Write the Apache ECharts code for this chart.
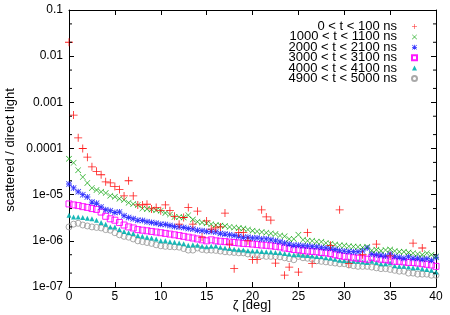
<!DOCTYPE html>
<html><head><meta charset="utf-8">
<script src="https://cdn.jsdelivr.net/npm/echarts@6/dist/echarts.min.js"></script>
<style>html,body{margin:0;padding:0;background:#fff}#c{width:450px;height:315px}</style>
</head><body><div id="c"></div>
<script>
// angle grid, 0..40 deg in 0.5 deg steps
const zeta = [0,0.5,1,1.5,2,2.5,3,3.5,4,4.5,5,5.5,6,6.5,7,7.5,8,8.5,9,9.5,10,10.5,11,11.5,12,12.5,13,13.5,14,14.5,15,15.5,16,16.5,17,17.5,18,18.5,19,19.5,20,20.5,21,21.5,22,22.5,23,23.5,24,24.5,25,25.5,26,26.5,27,27.5,28,28.5,29,29.5,30,30.5,31,31.5,32,32.5,33,33.5,34,34.5,35,35.5,36,36.5,37,37.5,38,38.5,39,39.5,40];

const seriesNames = ['0 < t < 100 ns','1000 < t < 1100 ns','2000 < t < 2100 ns','3000 < t < 3100 ns','4000 < t < 4100 ns','4900 < t < 5000 ns'];

const s0 = [0.02,5.3e-4,1.7e-4,1.0e-4,6.5e-5,4.0e-5,3.2e-5,2.7e-5,1.9e-5,1.8e-5,1.5e-5,1.3e-5,9.4e-6,2.0e-5,9.4e-6,6e-6,6e-6,6.2e-6,4.9e-6,5.3e-6,4.5e-6,6e-6,4.5e-6,3.4e-6,2.3e-6,3.2e-6,5.3e-6,2.3e-6,4.4e-6,1.2e-6,2.7e-6,1.8e-6,1.9e-6,2.0e-6,4e-6,8.5e-7,2.5e-7,1.5e-6,1.5e-6,1.0e-6,3.9e-7,3.9e-7,4.7e-6,3.3e-6,2.8e-6,3.3e-7,null,1.8e-7,2.7e-7,null,2.1e-7,null,1.5e-6,3.2e-7,null,null,null,8e-7,null,4.7e-6,null,3.2e-7,null,null,5e-7,null,null,8.5e-7,null,null,4.7e-7,null,null,null,null,8.9e-7,null,7e-7,null,null,null];

const s1 = [6.0e-5,4.9e-5,3.4e-5,2.4e-5,1.8e-5,1.4e-5,1.26e-5,1.15e-5,1.08e-5,9.5e-6,9.0e-6,8.2e-6,7.7e-6,6.7e-6,6.3e-6,6.0e-6,5.0e-6,4.9e-6,4.8e-6,4.6e-6,4.5e-6,4.0e-6,3.7e-6,3.3e-6,3.3e-6,3.2e-6,3.6e-6,2.9e-6,2.6e-6,2.5e-6,2.4e-6,2.3e-6,2.2e-6,2.15e-6,2.1e-6,2.0e-6,1.95e-6,1.9e-6,1.85e-6,1.75e-6,1.65e-6,1.6e-6,1.55e-6,1.5e-6,1.45e-6,1.4e-6,1.3e-6,1.25e-6,1.1e-6,1.1e-6,1.35e-6,1.05e-6,1.0e-6,1.0e-6,9.6e-7,9.5e-7,9.0e-7,8.7e-7,8.3e-7,8.0e-7,7.9e-7,7.6e-7,7.5e-7,7.4e-7,7.2e-7,7.4e-7,6.2e-7,6.4e-7,6.1e-7,6.3e-7,6.5e-7,6.0e-7,5.8e-7,5.8e-7,5.6e-7,5.4e-7,5.2e-7,5.0e-7,5.4e-7,5.0e-7,4.6e-7];

const s2 = [1.7e-5,1.4e-5,1.15e-5,1.0e-5,8.9e-6,6.9e-6,6.5e-6,5.4e-6,4.7e-6,4.5e-6,4.1e-6,4.2e-6,3.5e-6,3.2e-6,3.0e-6,2.8e-6,2.75e-6,2.6e-6,2.5e-6,2.4e-6,2.3e-6,2.25e-6,2.15e-6,2.05e-6,2.0e-6,1.95e-6,1.85e-6,1.8e-6,1.7e-6,1.65e-6,1.6e-6,1.6e-6,1.55e-6,1.45e-6,1.4e-6,1.35e-6,1.3e-6,1.25e-6,1.2e-6,1.2e-6,1.15e-6,1.15e-6,1.1e-6,1.1e-6,1.05e-6,1.0e-6,9.5e-7,9.0e-7,8.5e-7,8.0e-7,8.0e-7,7.8e-7,7.7e-7,7.5e-7,7.4e-7,7.2e-7,7.0e-7,6.9e-7,6.5e-7,6.2e-7,6.0e-7,5.9e-7,5.8e-7,5.8e-7,6.0e-7,7.0e-7,5.2e-7,5.0e-7,4.9e-7,4.7e-7,5.2e-7,4.6e-7,4.4e-7,4.2e-7,4.5e-7,4.2e-7,4.2e-7,4.0e-7,4.1e-7,3.8e-7,4.4e-7];

const s3 = [6.3e-6,6.0e-6,5.8e-6,5.5e-6,5.3e-6,5.0e-6,4.8e-6,4.2e-6,3.4e-6,3.0e-6,2.8e-6,2.5e-6,2.2e-6,2.0e-6,1.9e-6,1.75e-6,1.7e-6,1.65e-6,1.6e-6,1.55e-6,1.5e-6,1.45e-6,1.4e-6,1.35e-6,1.3e-6,1.25e-6,1.2e-6,1.15e-6,1.1e-6,1.05e-6,1.0e-6,1.05e-6,1.0e-6,9.8e-7,9.6e-7,9.4e-7,9.2e-7,9.0e-7,8.8e-7,8.7e-7,8.5e-7,8.3e-7,8.1e-7,8.0e-7,7.8e-7,7.6e-7,7.4e-7,7.0e-7,6.8e-7,6.5e-7,6.4e-7,6.2e-7,6.0e-7,5.9e-7,5.8e-7,5.6e-7,5.5e-7,5.3e-7,5.0e-7,4.8e-7,4.6e-7,4.5e-7,4.3e-7,4.2e-7,4.1e-7,4.0e-7,4.4e-7,4.2e-7,4.0e-7,3.9e-7,3.8e-7,3.6e-7,3.6e-7,3.5e-7,3.4e-7,3.4e-7,3.3e-7,3.2e-7,3.1e-7,3.0e-7,2.8e-7];

const s4 = [3.6e-6,3.3e-6,3.3e-6,3.2e-6,3.1e-6,3.0e-6,2.8e-6,2.5e-6,2.3e-6,2.0e-6,2.0e-6,1.75e-6,1.6e-6,1.5e-6,1.45e-6,1.3e-6,1.25e-6,1.2e-6,1.15e-6,1.1e-6,1.0e-6,1.0e-6,9.6e-7,9.3e-7,9.0e-7,8.6e-7,8.0e-7,8.2e-7,8.0e-7,7.6e-7,7.4e-7,7.6e-7,7.7e-7,7.3e-7,7.0e-7,6.8e-7,6.6e-7,6.4e-7,6.3e-7,6.1e-7,6.0e-7,6.0e-7,5.9e-7,5.8e-7,5.7e-7,5.6e-7,5.5e-7,5.3e-7,5.2e-7,5.0e-7,5.0e-7,4.9e-7,4.8e-7,4.7e-7,4.6e-7,4.5e-7,4.3e-7,4.2e-7,4.0e-7,3.8e-7,3.7e-7,3.7e-7,3.6e-7,3.6e-7,3.5e-7,3.4e-7,3.6e-7,3.4e-7,3.2e-7,3.2e-7,3.3e-7,2.9e-7,2.8e-7,2.8e-7,2.7e-7,2.6e-7,2.6e-7,2.5e-7,2.4e-7,2.3e-7,2.1e-7];

const s5 = [2.0e-6,2.3e-6,2.4e-6,2.2e-6,2.1e-6,2.0e-6,1.95e-6,1.9e-6,1.75e-6,1.7e-6,1.5e-6,1.35e-6,1.25e-6,1.2e-6,1.1e-6,1.0e-6,9.6e-7,9.2e-7,8.8e-7,8.2e-7,7.8e-7,7.6e-7,7.5e-7,7.4e-7,7.3e-7,6.8e-7,6.3e-7,6.3e-7,7.0e-7,6.5e-7,6.3e-7,6.3e-7,6.2e-7,6.0e-7,5.8e-7,5.7e-7,5.6e-7,5.5e-7,5.5e-7,5.2e-7,5.0e-7,4.9e-7,4.8e-7,4.6e-7,4.6e-7,4.6e-7,4.5e-7,4.3e-7,4.1e-7,3.9e-7,4.6e-7,4.3e-7,4.2e-7,4.0e-7,3.7e-7,3.6e-7,3.5e-7,3.4e-7,3.3e-7,3.2e-7,3.2e-7,3.0e-7,2.9e-7,2.8e-7,2.8e-7,2.8e-7,2.7e-7,2.6e-7,2.5e-7,2.5e-7,2.4e-7,2.3e-7,2.2e-7,2.2e-7,2.0e-7,2.0e-7,1.9e-7,1.9e-7,1.9e-7,1.8e-7,1.8e-7];

const yTickLabels = ['1e-07','1e-06','1e-05','0.0001','0.001','0.01','0.1'];
const xTicks = [0,5,10,15,20,25,30,35,40];
const yMinorTicks = [2e-7,5e-7,2e-6,5e-6,2e-5,5e-5,2e-4,5e-4,2e-3,5e-3,2e-2,5e-2];
const yTitle = 'scattered / direct light';
const xTitle = 'ζ [deg]';

const allSeries = [s0,s1,s2,s3,s4,s5];
const colors = ['#ff0000','#00a000','#2020ff','#ff00ff','#00b0b0','#a0a0a0'];
const PLUS = 'path://M0,9L20,9L20,11L0,11Z M9,0L11,0L11,20L9,20Z';
const CROSS = 'path://M0,1.4L1.4,0L20,18.6L18.6,20Z M18.6,0L20,1.4L1.4,20L0,18.6Z';
const STAR = 'path://M0,8.5L20,8.5L20,11.5L0,11.5Z M8.5,0L11.5,0L11.5,20L8.5,20Z M0,1.8L1.8,0L20,18.2L18.2,20Z M18.2,0L20,1.8L1.8,20L0,18.2Z';
const symbolDefs = [
  {symbol: PLUS, size: 8, fill: true},
  {symbol: CROSS, size: 6, fill: true},
  {symbol: STAR, size: 6, fill: true},
  {symbol: 'rect', size: 6, fill: false},
  {symbol: 'triangle', size: 5, fill: true},
  {symbol: 'circle', size: 6, fill: false}
];

const FONT = 'Liberation Sans, Arial, Helvetica, sans-serif';
const chart = echarts.init(document.getElementById('c'));

const series = allSeries.map((vals, i) => {
  const d = symbolDefs[i];
  return {
    name: seriesNames[i],
    type: 'scatter',
    xAxisIndex: 0, yAxisIndex: 0,
    data: zeta.map((z, k) => vals[k] == null ? null : [z, vals[k]]).filter(p => p),
    symbol: d.symbol,
    symbolSize: d.size,
    itemStyle: d.fill ? {color: colors[i], opacity: 0.9} :
      {color: 'rgba(255,255,255,0)', borderColor: colors[i], borderWidth: 1, opacity: 0.9},
    emphasis: {disabled: true},
    z: 10 - i
  };
});

series.push({
  type: 'custom',
  xAxisIndex: 0, yAxisIndex: 0,
  silent: true,
  data: yMinorTicks.map(v => [0, v]),
  renderItem: function (params, api) {
    const v = api.value(1);
    const l = api.coord([0, v]);
    const r = api.coord([40, v]);
    return {type: 'group', children: [
      {type: 'line', shape: {x1: l[0], y1: l[1], x2: l[0] + 3, y2: l[1]}, style: {stroke: '#000', lineWidth: 1}},
      {type: 'line', shape: {x1: r[0] - 3, y1: r[1], x2: r[0], y2: r[1]}, style: {stroke: '#000', lineWidth: 1}}
    ]};
  },
  z: 20
});

const axisCommon = {
  axisLine: {show: true, onZero: false, lineStyle: {color: '#000', width: 1}},
  axisTick: {show: true, inside: true, length: 5, lineStyle: {color: '#000'}},
  splitLine: {show: false}
};

chart.setOption({
  animation: false,
  backgroundColor: '#fff',
  grid: {left: 69, right: 14, top: 10, bottom: 28, containLabel: false, outerBoundsMode: 'none'},
  legend: {
    orient: 'vertical',
    right: 27, top: 15,
    align: 'right',
    itemWidth: 5, itemHeight: 5,
    itemGap: -2.6,
    selectedMode: false,
    textStyle: {fontFamily: FONT, fontSize: 13, color: '#000', padding: [0, 10, 0, 0]},
    data: seriesNames
  },
  graphic: [{
    type: 'text', x: 10, y: 150,
    rotation: Math.PI / 2,
    style: {text: yTitle, font: '13px ' + FONT, fill: '#000', align: 'center', verticalAlign: 'middle'}
  }, {
    type: 'text', x: 252, y: 305,
    style: {text: xTitle, font: '13px ' + FONT, fill: '#000', align: 'center', verticalAlign: 'middle'}
  }],
  xAxis: [
    Object.assign({}, axisCommon, {
      type: 'value', min: 0, max: 40, interval: 5, position: 'bottom',
      axisLabel: {fontFamily: FONT, fontSize: 12, color: '#000', margin: 4,
        formatter: v => xTicks.indexOf(v) >= 0 ? String(v) : ''}
    }),
    Object.assign({}, axisCommon, {
      type: 'value', min: 0, max: 40, interval: 5, position: 'top',
      axisLabel: {show: false}
    })
  ],
  yAxis: [
    Object.assign({}, axisCommon, {
      type: 'log', logBase: 10, min: 1e-7, max: 0.1, position: 'left',
      axisLabel: {fontFamily: FONT, fontSize: 12, color: '#000', margin: 6,
        formatter: v => yTickLabels[Math.round(Math.log10(v)) + 7]}
    }),
    Object.assign({}, axisCommon, {
      type: 'log', logBase: 10, min: 1e-7, max: 0.1, position: 'right',
      axisLabel: {show: false}
    })
  ],
  series: series
});
</script>
</body></html>
